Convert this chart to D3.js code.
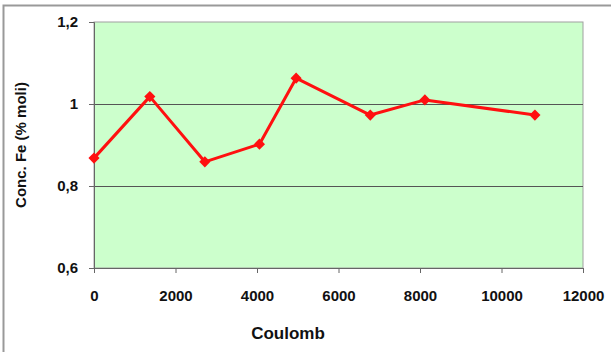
<!DOCTYPE html>
<html><head><meta charset="utf-8">
<script src="https://cdn.jsdelivr.net/npm/d3@7"></script>
<style>body{margin:0;background:#fff}svg{display:block}</style>
</head><body>
<script>
const coulomb = [0, 1370, 2720, 4060, 4960, 6780, 8120, 10820];
const concFe = [0.868, 1.018, 0.859, 0.902, 1.063, 0.973, 1.01, 0.973];
const xTicks = [0, 2000, 4000, 6000, 8000, 10000, 12000];
const yTicks = [0.6, 0.8, 1.0, 1.2];
const yTickLabels = ["0,6", "0,8", "1", "1,2"];
const gridValues = [0.8, 1.0];
const xTitle = "Coulomb";
const yTitle = "Conc. Fe (% moli)";

const W = 611, H = 352;
const m = {left: 94, right: 28, top: 22, bottom: 84};
const svg = d3.select("body").append("svg").attr("width", W).attr("height", H);
const font = "'Liberation Sans', Arial, sans-serif";

// outer frame
svg.append("rect").attr("x", 3.5).attr("y", 5.5).attr("width", W + 10).attr("height", H + 10)
  .attr("fill", "none").attr("stroke", "#999").attr("stroke-width", 2);

const x = d3.scaleLinear().domain([0, 12000]).range([m.left, W - m.right]);
const y = d3.scaleLinear().domain([0.6, 1.2]).range([H - m.bottom, m.top]);

svg.append("rect").attr("x", x(0)).attr("y", y(1.2)).attr("width", x(12000) - x(0)).attr("height", y(0.6) - y(1.2))
  .attr("fill", "#ccffcc").attr("stroke", "#a0a0a0").attr("stroke-width", 1);

svg.selectAll(".grid").data(gridValues).enter().append("line")
  .attr("x1", x(0)).attr("x2", x(12000)).attr("y1", d => Math.round(y(d)) + 0.5).attr("y2", d => Math.round(y(d)) + 0.5)
  .attr("stroke", "#555").attr("stroke-width", 1);

const yAxis = svg.append("g").attr("transform", `translate(${x(0)},0)`)
  .call(d3.axisLeft(y).tickValues(yTicks).tickFormat((d, i) => yTickLabels[i]).tickSize(5).tickPadding(11));
const xAxis = svg.append("g").attr("transform", `translate(0,${y(0.6)})`)
  .call(d3.axisBottom(x).tickValues(xTicks).tickFormat(d3.format("d")).tickSize(5).tickPadding(17));
[xAxis, yAxis].forEach(a => {
  a.select(".domain").attr("stroke", "#666");
  a.selectAll(".tick line").attr("stroke", "#666");
  a.selectAll("text").attr("font-family", font).attr("font-weight", "bold").attr("font-size", 15).attr("fill", "#111");
});

const line = d3.line().x((d, i) => x(coulomb[i])).y(d => y(d));
svg.append("path").datum(concFe).attr("d", line).attr("fill", "none")
  .attr("stroke", "#ff1010").attr("stroke-width", 3).attr("stroke-linejoin", "round");

svg.selectAll(".pt").data(concFe).enter().append("path")
  .attr("d", d3.symbol().type(d3.symbolSquare).size(62))
  .attr("transform", (d, i) => `translate(${x(coulomb[i])},${y(d)}) rotate(45)`)
  .attr("fill", "#ff1010");

svg.append("text").attr("x", 288).attr("y", 339).attr("text-anchor", "middle")
  .attr("font-family", font).attr("font-weight", "bold").attr("font-size", 17).attr("fill", "#111").text(xTitle);
svg.append("text").attr("transform", "translate(26,145) rotate(-90)").attr("text-anchor", "middle")
  .attr("font-family", font).attr("font-weight", "bold").attr("font-size", 15).attr("fill", "#111").text(yTitle);
</script>
</body></html>
